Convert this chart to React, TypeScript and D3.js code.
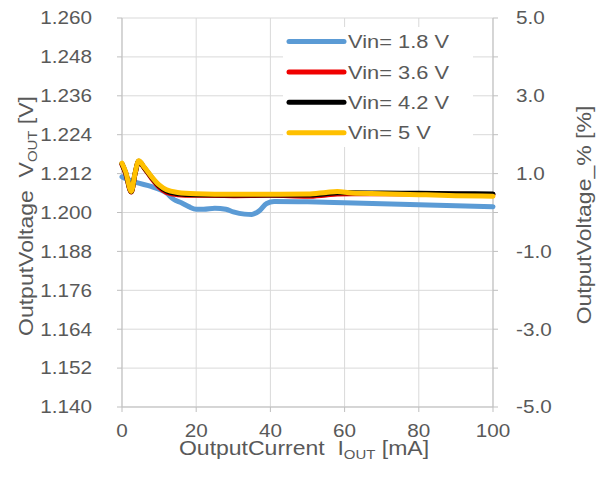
import React from "react";
import * as d3 from "d3";

const series1X = [0, 2, 4, 8, 12, 14, 16, 18, 20, 22, 25, 28, 30, 33, 35, 37, 39, 41, 50, 60, 70, 80, 90, 100];
const series1Y = [1.211, 1.21, 1.2092, 1.208, 1.206, 1.204, 1.203, 1.2018, 1.201, 1.201, 1.2013, 1.201, 1.2002, 1.1995, 1.1994, 1.2005, 1.2028, 1.2034, 1.2033, 1.203, 1.2027, 1.2024, 1.2021, 1.2018];

const seriesX = [0, 1, 2.5, 3.5, 4.5, 6, 8, 10, 12, 15, 20, 30, 40, 50, 55, 58, 62, 70, 80, 90, 100];
const series2Y = [1.2148, 1.212, 1.2063, 1.2118, 1.2157, 1.2137, 1.2105, 1.2078, 1.2062, 1.2055, 1.2053, 1.2052, 1.2053, 1.205, 1.2054, 1.2057, 1.2058, 1.2058, 1.2057, 1.2056, 1.2055];
const series3Y = [1.215, 1.2122, 1.2064, 1.2119, 1.2158, 1.2138, 1.2108, 1.2082, 1.2066, 1.2058, 1.2055, 1.2054, 1.2054, 1.2054, 1.2058, 1.2061, 1.2061, 1.206, 1.2059, 1.2058, 1.2057];
const series4Y = [1.2152, 1.2125, 1.2065, 1.212, 1.216, 1.214, 1.211, 1.2085, 1.207, 1.2062, 1.2058, 1.2056, 1.2056, 1.2057, 1.2062, 1.2065, 1.206, 1.2058, 1.2055, 1.2052, 1.205];

const seriesNames = ["Vin= 1.8 V", "Vin= 3.6 V", "Vin= 4.2 V", "Vin= 5 V"];
const seriesColors = ["#5B9BD5", "#F00000", "#000000", "#FFC000"];

const xTicks = [0, 20, 40, 60, 80, 100];
const yTicksLeft = [1.14, 1.152, 1.164, 1.176, 1.188, 1.2, 1.212, 1.224, 1.236, 1.248, 1.26];
const yTicksRight = [-5, -4, -3, -2, -1, 0, 1, 2, 3, 4, 5];
const yLabelsRight = [-5, -3, -1, 1, 3, 5];

const W = 598;
const H = 479;
const left = 122;
const right = 493;
const top = 18;
const bottom = 407;
const font = "'Liberation Sans', Arial, sans-serif";
const textColor = "#595959";
const SX = 1.15;

function T(props: {
  x: number;
  y: number;
  rotate?: number;
  anchor?: string;
  size: number;
  dy?: string;
  children: React.ReactNode;
}) {
  const { x, y, rotate = 0, anchor = "start", size, dy, children } = props;
  return (
    <text
      transform={`translate(${x},${y}) rotate(${rotate}) scale(${SX},1)`}
      textAnchor={anchor}
      fontSize={size}
      fill={textColor}
      dy={dy}
      style={{ whiteSpace: "pre" }}
    >
      {children}
    </text>
  );
}

export default function App() {
  const x = d3.scaleLinear().domain([0, 100]).range([left, right]);
  const y = d3.scaleLinear().domain([1.14, 1.26]).range([bottom, top]);
  const yR = d3.scaleLinear().domain([-5, 5]).range([bottom, top]);

  const line = d3
    .line<[number, number]>()
    .x((d) => x(d[0]))
    .y((d) => y(d[1]))
    .curve(d3.curveMonotoneX);

  const data: [number, number][][] = [
    series1X.map((v, i) => [v, series1Y[i]] as [number, number]),
    seriesX.map((v, i) => [v, series2Y[i]] as [number, number]),
    seriesX.map((v, i) => [v, series3Y[i]] as [number, number]),
    seriesX.map((v, i) => [v, series4Y[i]] as [number, number]),
  ];

  const legendY = (i: number) => 41.5 + i * 30.4;

  return (
    <svg
      width={W}
      height={H}
      style={{ position: "absolute", left: 0, top: 0, background: "#fff" }}
      fontFamily={font}
    >
      <rect x={0} y={0} width={W} height={H} fill="#fff" />
      {yTicksLeft.map((t) => (
        <line key={"gy" + t} x1={left} x2={right} y1={y(t)} y2={y(t)} stroke="#d9d9d9" strokeWidth={1} />
      ))}
      {xTicks.map((t) => (
        <line key={"gx" + t} x1={x(t)} x2={x(t)} y1={top} y2={bottom} stroke="#d9d9d9" strokeWidth={1} />
      ))}
      <line x1={left} x2={left} y1={top} y2={bottom} stroke="#bfbfbf" />
      <line x1={right} x2={right} y1={top} y2={bottom} stroke="#bfbfbf" />
      <line x1={left} x2={right} y1={bottom} y2={bottom} stroke="#bfbfbf" />
      {yTicksLeft.map((t) => (
        <line key={"tl" + t} x1={left - 5} x2={left} y1={y(t)} y2={y(t)} stroke="#bfbfbf" />
      ))}
      {yTicksRight.map((t) => (
        <line key={"tr" + t} x1={right} x2={right + 5} y1={yR(t)} y2={yR(t)} stroke="#bfbfbf" />
      ))}
      {xTicks.map((t) => (
        <line key={"tx" + t} x1={x(t)} x2={x(t)} y1={bottom} y2={bottom + 5} stroke="#bfbfbf" />
      ))}
      {yTicksLeft.map((t) => (
        <T key={"ll" + t} x={92} y={y(t)} dy="0.35em" anchor="end" size={18}>
          {d3.format(".3f")(t)}
        </T>
      ))}
      {yLabelsRight.map((t) => (
        <T key={"lr" + t} x={516} y={yR(t)} dy="0.35em" size={18}>
          {d3.format(".1f")(t).replace("−", "-")}
        </T>
      ))}
      {xTicks.map((t) => (
        <T key={"lx" + t} x={x(t)} y={437} anchor="middle" size={18}>
          {String(t)}
        </T>
      ))}
      {data.map((d, i) => (
        <path
          key={"s" + i}
          d={line(d) || ""}
          fill="none"
          stroke={seriesColors[i]}
          strokeWidth={5}
          strokeLinejoin="round"
          strokeLinecap="round"
        />
      ))}
      <rect x={283} y={27} width={190} height={120} fill="#fff" />
      {seriesNames.map((n, i) => (
        <g key={"lg" + i}>
          <line
            x1={289}
            x2={344}
            y1={legendY(i)}
            y2={legendY(i)}
            stroke={seriesColors[i]}
            strokeWidth={5}
            strokeLinecap="round"
          />
          <T x={348} y={legendY(i)} dy="0.35em" size={19}>
            {n}
          </T>
        </g>
      ))}
      <T x={33} y={216} rotate={-90} anchor="middle" size={20}>
        <tspan>{"OutputVoltage  V"}</tspan>
        <tspan fontSize={13} dy={4}>OUT</tspan>
        <tspan dy={-4}>{" [V]"}</tspan>
      </T>
      <T x={591} y={215} rotate={-90} anchor="middle" size={20}>
        OutputVoltage_% [%]
      </T>
      <T x={304} y={455} anchor="middle" size={20}>
        <tspan>{"OutputCurrent  I"}</tspan>
        <tspan fontSize={13} dy={4}>OUT</tspan>
        <tspan dy={-4}>{" [mA]"}</tspan>
      </T>
    </svg>
  );
}
